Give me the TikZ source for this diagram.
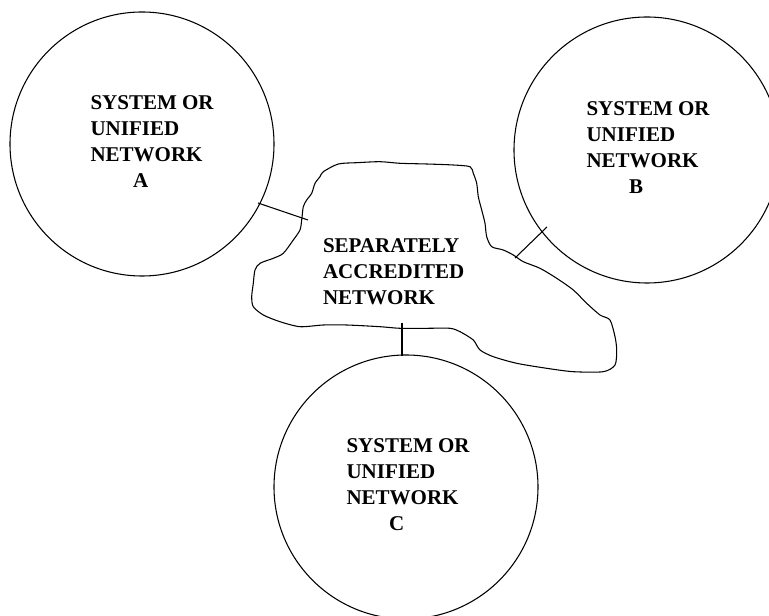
\documentclass[tikz,border=0pt]{standalone}
\usepackage{fontspec}
\setmainfont{Liberation Serif}
\begin{document}
\begin{tikzpicture}[x=0.75pt,y=-0.75pt,line width=0.8pt,
  netcircle/.style={circle,draw,inner sep=0pt,outer sep=0pt},
  netlabel/.style={anchor=north west,inner sep=0pt,align=left,
    font=\bfseries\fontsize{15.75}{19.5}\selectfont}]
\useasboundingbox (0,0) rectangle (769,616);
\clip (0,0) rectangle (769,616);

% the three systems / unified networks
\node[netcircle,minimum size=198pt] (A) at (142,144) {};
\node[netcircle,minimum size=199.5pt] (B) at (647,150) {};
\node[netcircle,minimum size=198pt] (C) at (406,487) {};

\node[netlabel] (tA) at (90,95.5) {SYSTEM OR\\UNIFIED\\NETWORK\\\hspace*{32pt}A};
\node[netlabel] (tB) at (586,101.5) {SYSTEM OR\\UNIFIED\\NETWORK\\\hspace*{32pt}B};
\node[netlabel] (tC) at (346,438.5) {SYSTEM OR\\UNIFIED\\NETWORK\\\hspace*{32pt}C};

% the separately accredited network, drawn freehand
\draw plot[smooth cycle,tension=0.45] coordinates {
  (323.3,171.7) (338.3,164) (356.7,162.7) (380,161.7) (400,163.3)
  (426.7,164) (453.3,165) (470,166.7) (473.3,173.3) (476.7,183.3)
  (478.3,196.7) (481.7,210) (485,223.3) (486.7,236.7) (491.7,246.7)
  (503.3,250) (513.3,255) (523.3,261.7) (540,268.3) (556.7,278.3)
  (573.3,290) (586.7,303.3) (600,315) (610,320) (615,336.7)
  (616.7,350) (615,365) (603.3,371.7) (573.3,371.7) (546.7,368.3)
  (516.7,363.3) (493.3,356.7) (480,350) (473.3,340) (460,331.7)
  (450,328.3) (426.7,328.3) (400,328.3) (380,326.7) (346.7,325)
  (323.3,325) (300,326.7) (280,321.7) (263.3,315) (253.3,306.7)
  (251.7,296.7) (253.3,283.3) (255,270) (260,263.3) (273.3,258.3)
  (283.3,253.3) (293.3,240) (300,230) (301.7,220) (303.3,206.7)
  (306.7,200) (311.7,193.3) (315,183.3) (320,176.7)};
\node[netlabel] (tS) at (322.5,238) {SEPARATELY\\ACCREDITED\\NETWORK};

% link ends on the separately accredited network
\coordinate (sA) at (308,220);
\coordinate (sB) at (515,258);
\coordinate (sC) at (402,323);
\coordinate (bA) at (258,203);
\coordinate (bB) at (547,227);
\coordinate (bC) at (402,356);

\draw (bA) -- (sA);
\draw (bB) -- (sB);
\draw (bC) -- (sC);
\end{tikzpicture}
\end{document}
